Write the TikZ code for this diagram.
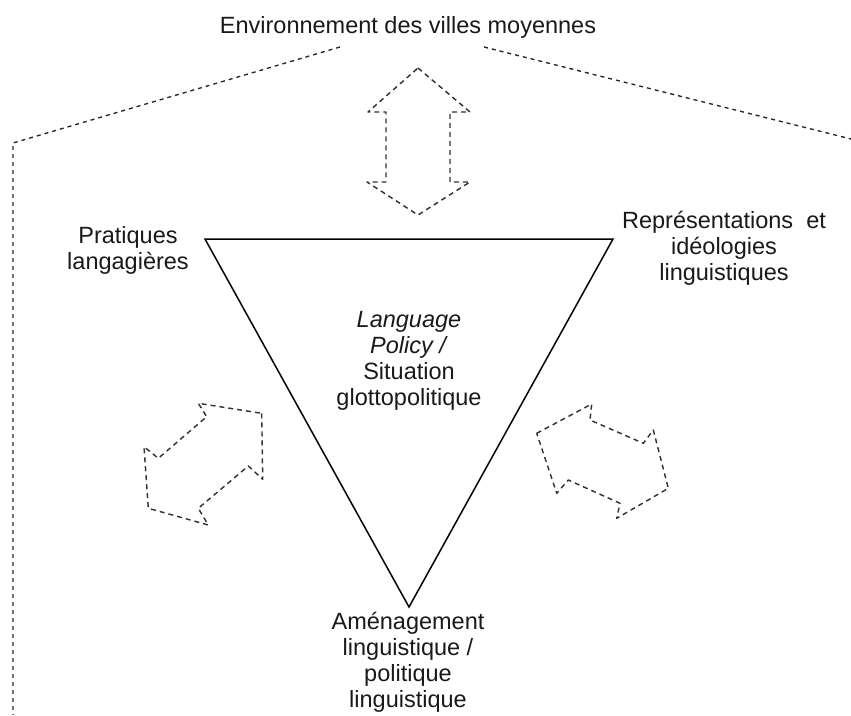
\documentclass[tikz,border=0pt]{standalone}
\usepackage{fontspec}
\setmainfont{Liberation Sans}
\begin{document}
\begin{tikzpicture}[x=1pt,y=-1pt,
  lbl/.style={font=\fontsize{23.5}{26}\selectfont, align=center, inner sep=0pt, text=black!90},
  frameline/.style={draw=black!85, line width=1.35pt, dash pattern=on 4pt off 4pt},
  blockarrow/.style={draw=black!80, line width=1.45pt, dash pattern=on 5pt off 4pt, line join=round},
  tri/.style={draw=black, line width=1.5pt, line join=miter}]
\useasboundingbox (0,0) rectangle (851,715);
% frame
\coordinate (fl1) at (340,47);
\coordinate (fl2) at (13,143);
\coordinate (fl3) at (13,715);
\coordinate (fr1) at (484,47);
\coordinate (fr2) at (851,139);
\draw[frameline] (fl1) -- (fl2) -- (fl3);
\draw[frameline] (fr1) -- (fr2);
% triangle
\coordinate (tl) at (205,239);
\coordinate (tr) at (613,239);
\coordinate (tb) at (409,607);
\draw[tri] (tl) -- (tr) -- (tb) -- cycle;
% texts
\node[lbl] (title) at (408,27) {Environnement des villes moyennes};
\node[lbl] (prat) at (128,250) {Pratiques\\langagières};
\node[lbl] (repr) at (724,248) {Représentations\ \ et\\idéologies\\linguistiques};
\node[lbl] (lp) at (409,361) {\textit{Language}\\\textit{Policy /}\\Situation\\glottopolitique};
\node[lbl] (amen) at (408,662) {Aménagement\\linguistique /\\politique\\linguistique};
% vertical double arrow
\draw[blockarrow] (418,68) -- (470,112) -- (450,112) -- (450,182) -- (470,182) -- (418,215)
  -- (367,182) -- (386,182) -- (386,112) -- (368,112) -- cycle;
% left double arrow
\draw[blockarrow] (261.7,413.3) -- (262.7,479.3) -- (248.3,466) -- (198.3,508.3) -- (208.3,525)
  -- (148.3,508.3) -- (144,446.7) -- (158.3,458.3) -- (206.7,416.7) -- (198.3,403.3) -- cycle;
% right double arrow
\draw[blockarrow] (536.7,433.3) -- (591.7,404) -- (590,420) -- (643.3,443.3) -- (653.3,430)
  -- (668.3,488.3) -- (616.7,518.3) -- (620,503.3) -- (568.3,480) -- (556.7,493.3) -- cycle;
\end{tikzpicture}
\end{document}
